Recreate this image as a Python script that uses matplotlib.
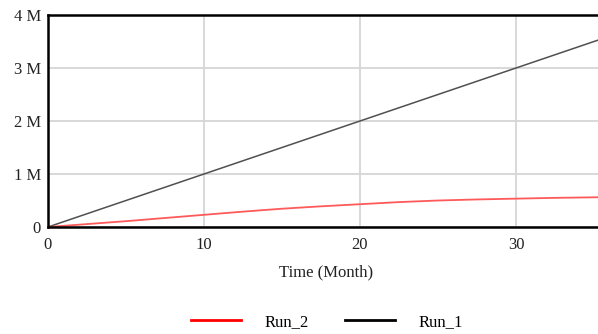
import matplotlib
matplotlib.use("Agg")
import matplotlib.pyplot as plt
from matplotlib.lines import Line2D
from matplotlib.ticker import FuncFormatter

# data (months, people)
months_run1 = [0, 10, 20, 30, 36]
run_1 = [0, 1.0e6, 2.0e6, 3.0e6, 3.6e6]

months_run2 = [0, 2.5, 5, 7.5, 10, 12.5, 15, 17.5, 20, 22.5, 25, 27.5, 30, 32.5, 35, 36]
run_2 = [0, 0.055e6, 0.11e6, 0.17e6, 0.23e6, 0.29e6, 0.345e6, 0.39e6, 0.43e6,
         0.47e6, 0.50e6, 0.52e6, 0.535e6, 0.55e6, 0.56e6, 0.565e6]

x_ticks = [0, 10, 20, 30]
y_ticks = [0, 1e6, 2e6, 3e6, 4e6]

plt.rcParams['font.family'] = ['Liberation Serif', 'DejaVu Serif']

fig = plt.figure(figsize=(5.98, 3.34), dpi=100)
ax = fig.add_axes([48 / 598, 1 - 227 / 334, (609.6 - 48) / 598, 212 / 334])

ax.plot(months_run1, run_1, color='#505050', lw=1.1)
ax.plot(months_run2, run_2, color='#ff5a5a', lw=1.3)

ax.set_xlim(0, 36)
ax.set_ylim(0, 4e6)
ax.set_xticks(x_ticks)
ax.set_yticks(y_ticks)
ax.yaxis.set_major_formatter(FuncFormatter(lambda v, p: '0' if v == 0 else f'{int(v / 1e6)} M'))
ax.tick_params(length=0, labelsize=12, colors='#222222')
ax.tick_params(axis='y', pad=5)
ax.tick_params(axis='x', pad=7)
ax.grid(True, color='#d6d6d6', lw=1.3)
ax.set_axisbelow(True)

for side in ['left', 'top', 'bottom']:
    ax.spines[side].set_linewidth(1.8)
    ax.spines[side].set_color('black')
ax.spines['right'].set_visible(False)

fig.text(326 / 598, 1 - 272 / 334, 'Time (Month)', ha='center', va='center', fontsize=12, color='#222222')

handles = [Line2D([], [], color='red', lw=2), Line2D([], [], color='black', lw=2)]
fig.legend(handles, ['Run_2', 'Run_1'], loc='center', bbox_to_anchor=(327 / 598, 1 - 322 / 334),
           ncol=2, frameon=False, fontsize=12, handlelength=3.0, handletextpad=1.4,
           columnspacing=2.15)

fig.savefig('out.png', dpi=100)
